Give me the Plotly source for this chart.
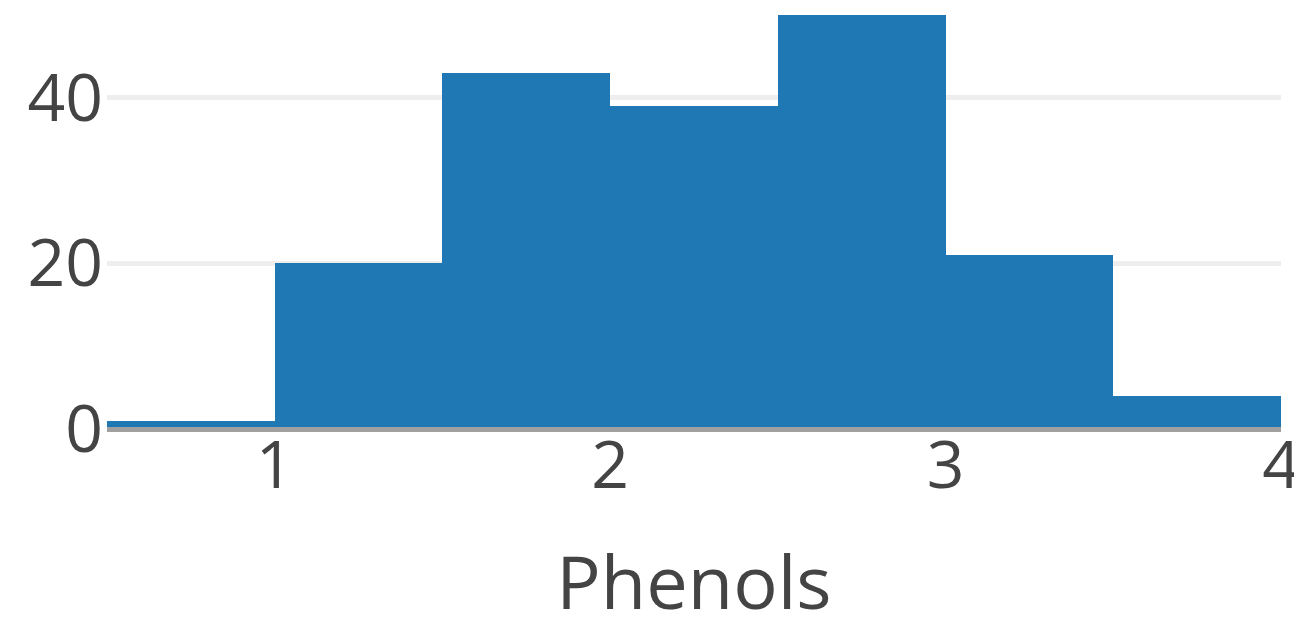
import plotly.graph_objects as go

bin_centers = [0.75, 1.25, 1.75, 2.25, 2.75, 3.25, 3.75]
counts = [1, 20, 43, 39, 50, 21, 4]
bin_width = 0.5
x_ticks = [1, 2, 3, 4]
y_ticks = [0, 20, 40]

fig = go.Figure(go.Bar(x=bin_centers, y=counts, width=bin_width,
                       marker=dict(color="#1f77b4", line=dict(width=0))))

fig.update_layout(
    width=1294, height=623,
    margin=dict(l=99, r=21, t=0, b=202),
    paper_bgcolor="white", plot_bgcolor="white",
    bargap=0, showlegend=False,
    font=dict(family="Open Sans", color="#444"),
    xaxis=dict(range=[0.5, 4], tickvals=x_ticks, showgrid=False, zeroline=False,
               tickfont=dict(size=66, color="#444", family="Open Sans"), ticks="",
               title=dict(text="Phenols", font=dict(size=74, color="#444", family="Open Sans"),
                          standoff=61)),
    yaxis=dict(range=[0, 50.8], tickvals=y_ticks, showgrid=True, gridcolor="#eeeeee",
               gridwidth=5, zeroline=True, zerolinecolor="#a0a0a0", zerolinewidth=5,
               tickfont=dict(size=66, color="#444", family="Open Sans"), ticks="",
               showline=False),
)
try:
    fig.update_yaxes(zerolinelayer="above traces")
except Exception:
    pass
try:
    fig.update_xaxes(ticklabelstandoff=-8, ticklabeloverflow="allow")
except Exception:
    pass
try:
    fig.update_yaxes(ticklabelstandoff=3)
except Exception:
    pass

fig.write_html("out.html")
